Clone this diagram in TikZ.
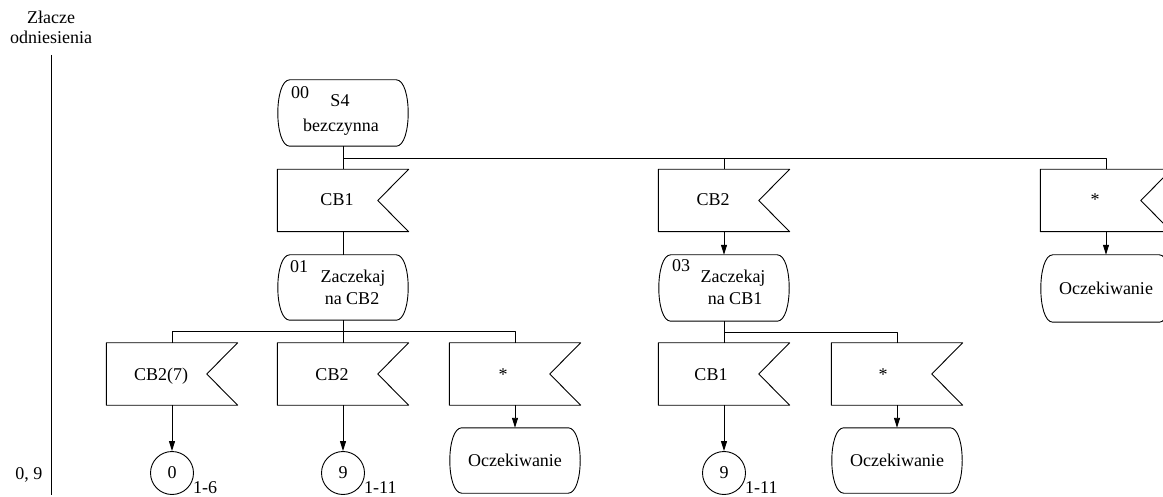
\documentclass[tikz,border=0pt]{standalone}
\usepackage{fontspec}
\setmainfont{Liberation Serif}
\usetikzlibrary{arrows.meta,calc}
\newcommand\stateoutline[1]{%
  \draw[ln] ($(#1.north west)+(12,0)$) -- ($(#1.north east)+(-12,0)$)
    .. controls ($(#1.north east)+(4,0)$) and ($(#1.south east)+(4,0)$) .. ($(#1.south east)+(-12,0)$)
    -- ($(#1.south west)+(12,0)$)
    .. controls ($(#1.south west)+(-4,0)$) and ($(#1.north west)+(-4,0)$) .. ($(#1.north west)+(12,0)$) -- cycle;}
\newcommand\sigoutline[1]{%
  \draw[ln] (#1.north west) -- (#1.north east) -- ($(#1.east)+(-31,0)$) -- (#1.south east) -- (#1.south west) -- cycle;}
\begin{document}
\begin{tikzpicture}[x=1pt,y=-1pt,
  every node/.style={font=\fontsize{18}{21}\selectfont, inner sep=0pt},
  ln/.style={line width=0.9pt, draw=black, line join=round},
  arr/.style={ln, -{Triangle[length=10pt,width=6pt]}},
  stbox/.style={minimum width=130pt, minimum height=66pt},
  sigbox/.style={minimum width=131pt, minimum height=62pt},
  conn/.style={circle, draw, line width=0.9pt, minimum size=43pt},
]
\fill[white] (0,0) rectangle (1163,497);
\clip (0,0) rectangle (1163,497);

\def\A{343}\def\B{724}\def\C{1106}\def\D{172}\def\E{515}\def\F{897}

% reference line
\node[anchor=base] (ref1) at (51,24) {Złacze};
\node[anchor=base] (ref2) at (51,44) {odniesienia};
\node[anchor=base] (ref3) at (29,479) {0, 9};
\coordinate (rtop) at (51.5,55);
\coordinate (rbot) at (51.5,495);
\draw[ln] (rtop) -- (rbot);

% nodes
\node[stbox] (s00) at (\A,113) {};
\node[sigbox] (sCB1) at (\A,200.5) {};
\node[stbox, minimum height=65pt] (s01) at (\A,287.5) {};
\node[sigbox] (sCB2b) at (\A,374) {};
\node[conn] (c9a) at (\A,473) {9};

\node[sigbox] (sCB2) at (\B,200.5) {};
\node[stbox] (s03) at (\B,288) {};
\node[sigbox] (sCB1b) at (\B,374) {};
\node[conn] (c9b) at (\B,473) {9};

\node[sigbox] (sStarR) at (\C,200.5) {};
\node[stbox, minimum height=67pt] (wR) at (\C,288.5) {Oczekiwanie};

\node[sigbox] (sCB27) at (\D,374) {};
\node[conn] (c0) at (\D,473) {0};

\node[sigbox] (sStar1) at (\E,374) {};
\node[stbox, minimum height=65pt] (w1) at (\E,460.5) {Oczekiwanie};

\node[sigbox] (sStar3) at (\F,374) {};
\node[stbox, minimum height=65pt] (w3) at (\F,460.5) {Oczekiwanie};

% outlines
\foreach \n in {s00,s01,s03,wR,w1,w3} {\stateoutline{\n}}
\foreach \n in {sCB1,sCB2b,sCB2,sCB1b,sStarR,sCB27,sStar1,sStar3} {\sigoutline{\n}}

% state texts
\node[anchor=base west] (s00n) at (\A-52,99) {00};
\node[anchor=base] (s00a) at (\A-3,107) {S4};
\node[anchor=base] (s00b) at (\A-2,132) {bezczynna};
\node[anchor=base west] (s01n) at (\A-53,273) {01};
\node[anchor=base] (s01a) at (\A+10,283) {Zaczekaj};
\node[anchor=base] (s01b) at (\A+9,305) {na CB2};
\node[anchor=base west] (s03n) at (\B-52,272) {03};
\node[anchor=base] (s03a) at (\B+9,283) {Zaczekaj};
\node[anchor=base] (s03b) at (\B+11,305) {na CB1};

% signal texts
\node[anchor=base] (tCB1) at (\A-6,206) {CB1};
\node[anchor=base] (tCB2) at (\B-11,206) {CB2};
\node[anchor=base] (tStarR) at (\C-11,206) {*};
\node[anchor=base] (tCB27) at (\D-11,380) {CB2(7)};
\node[anchor=base] (tCB2b) at (\A-11,380) {CB2};
\node[anchor=base] (tStar1) at (\E-12,380) {*};
\node[anchor=base] (tCB1b) at (\B-13,380) {CB1};
\node[anchor=base] (tStar3) at (\F-14,380) {*};

% connector labels
\node[anchor=base west] (c0l) at (\D+21,493) {1-6};
\node[anchor=base west] (c9al) at (\A+21,493) {1-11};
\node[anchor=base west] (c9bl) at (\B+21,493) {1-11};

% buses
\coordinate (bus0) at (\A,158);
\coordinate (bus1) at (\A,331);
\coordinate (bus3) at (\B,332);
\draw[ln] (s00.south) -- (bus0) -| (sStarR.north);
\draw[ln] (bus0) -| (sCB2.north);
\draw[ln] (bus0) -- (sCB1.north);
\draw[ln] (sCB1.south) -- (s01.north);
\draw[arr] (sCB2.south) -- (s03.north);
\draw[arr] (sStarR.south) -- (wR.north);

\draw[ln] (s01.south) -- (bus1) -| (sCB27.north);
\draw[ln] (bus1) -| (sStar1.north);
\draw[ln] (bus1) -- (sCB2b.north);
\draw[arr] (sCB27.south) -- (c0.north);
\draw[arr] (sCB2b.south) -- (c9a.north);
\draw[arr] (sStar1.south) -- (w1.north);

\draw[ln] (s03.south) -- (bus3) -| (sStar3.north);
\draw[ln] (bus3) -- (sCB1b.north);
\draw[arr] (sCB1b.south) -- (c9b.north);
\draw[arr] (sStar3.south) -- (w3.north);
\end{tikzpicture}
\end{document}
